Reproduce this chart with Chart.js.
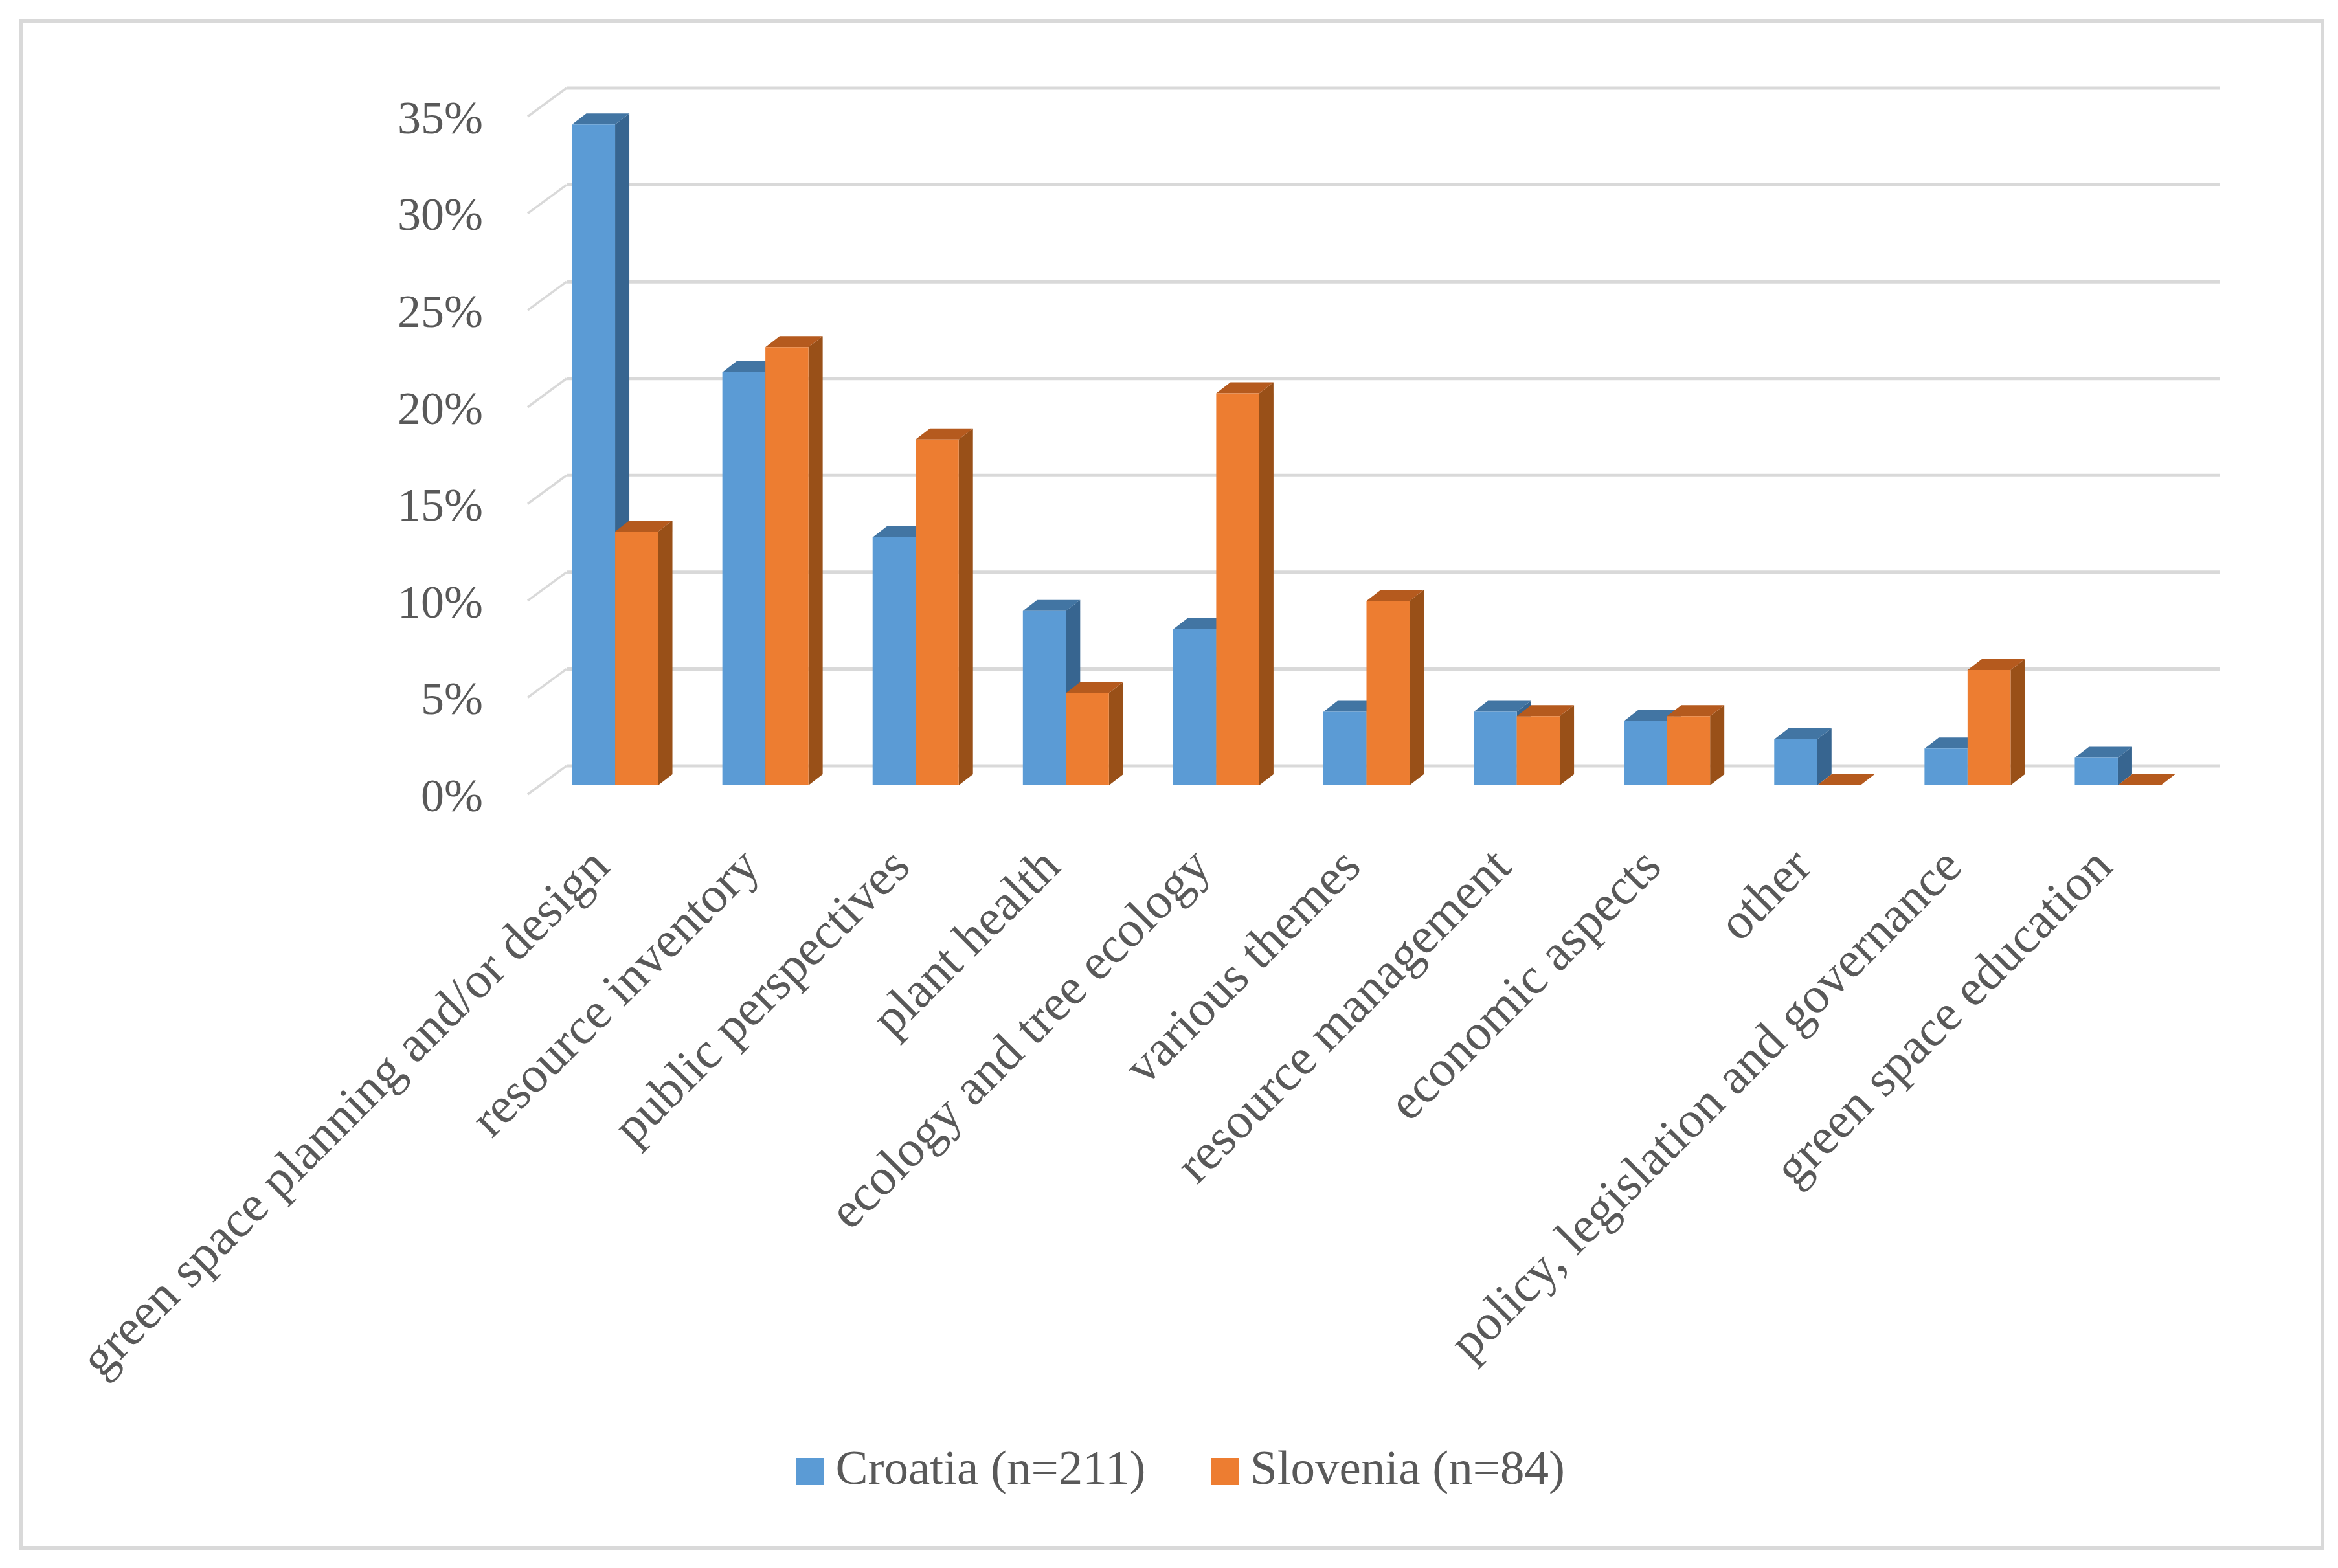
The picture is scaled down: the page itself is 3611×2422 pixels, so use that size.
<!DOCTYPE html>
<html>
<head>
<meta charset="utf-8">
<style>html,body{margin:0;padding:0;background:#fff}canvas{display:block}</style>
<script src="https://cdn.jsdelivr.net/npm/chart.js@4"></script>
</head>
<body>
<canvas id="c" width="3611" height="2422" style="width:3611px;height:2422px"></canvas>
<script>
const categories = ["green space planning and/or design","resource inventory","public perspectives","plant health","ecology and tree ecology","various themes","resource management","economic aspects","other","policy, legislation and governance","green space education"];
const croatia = [34.12,21.33,12.80,9.00,8.06,3.79,3.79,3.32,2.37,1.90,1.42];
const slovenia = [13.10,22.62,17.86,4.76,20.24,9.52,3.57,3.57,0,5.95,0];
const seriesNames = ["Croatia (n=211)","Slovenia (n=84)"];
const seriesColors = ['#5B9BD5','#ED7D31'];
const fontFamily = '"Liberation Serif"';
const textColor = '#595959';
const depth = {frontX:-19, frontY:14, backX:41, backY:-30, barX:22, barY:17};
const shades = [{top:'#4275A3',side:'#376590'},{top:'#B55A1E',side:'#995018'}];

function swatch(color){
  const k=document.createElement('canvas');k.width=42;k.height=42;
  const g=k.getContext('2d');g.fillStyle=color;g.fillRect(0,0,42,42);return k;
}
const swatches = seriesColors.map(swatch);

const frame3d = {
  id:'frame3d',
  afterLayout(chart){
    chart.scales.x.bottom = chart.height;
  },
  beforeDraw(chart){
    const c = chart.ctx;
    c.save();c.fillStyle='#fff';c.fillRect(0,0,chart.width,chart.height);
    c.strokeStyle='#D9D9D9';c.lineWidth=6;c.strokeRect(32,32,3555,2359);c.restore();
  },
  beforeDatasetsDraw(chart){
    const c = chart.ctx, y = chart.scales.y, a = chart.chartArea;
    c.save();c.strokeStyle='#D9D9D9';
    y.ticks.forEach(t=>{
      const p = y.getPixelForValue(t.value);
      c.lineWidth=3.5;c.beginPath();
      c.moveTo(a.left+depth.frontX,p+depth.frontY);
      c.lineTo(a.left+depth.backX,p+depth.backY);c.stroke();
      c.lineWidth=5;c.beginPath();
      c.moveTo(a.left+depth.backX,p+depth.backY);
      c.lineTo(a.right+depth.backX,p+depth.backY);c.stroke();
    });
    c.restore();
  },
  beforeDatasetDraw(){ return false; },
  afterDatasetsDraw(chart){
    const c = chart.ctx, dx=depth.barX, dy=depth.barY;
    chart.getSortedVisibleDatasetMetas().forEach(meta=>{
      const s = shades[meta.index];
      c.save();
      meta.data.forEach(b=>{
        const l=b.x-b.width/2, r=b.x+b.width/2, t=b.y, base=b.base;
        c.fillStyle=s.side;c.beginPath();
        c.moveTo(r,base);c.lineTo(r+dx,base-dy);c.lineTo(r+dx,t-dy);c.lineTo(r,t);c.closePath();c.fill();
        c.fillStyle=s.top;c.beginPath();
        c.moveTo(l,t);c.lineTo(l+dx,t-dy);c.lineTo(r+dx,t-dy);c.lineTo(r,t);c.closePath();c.fill();
      });
      c.restore();
      meta.controller.draw();
    });
  }
};

new Chart(document.getElementById('c'),{
  type:'bar',
  data:{labels:categories,datasets:[
    {label:seriesNames[0],data:croatia,backgroundColor:seriesColors[0],yAxisID:'y'},
    {label:seriesNames[1],data:slovenia,backgroundColor:seriesColors[1],yAxisID:'y'}
  ]},
  options:{
    responsive:false,animation:false,devicePixelRatio:1,
    layout:{padding:{left:55,right:0,top:166,bottom:102}},
    datasets:{bar:{categoryPercentage:0.573,barPercentage:1,borderWidth:0}},
    plugins:{
      tooltip:{enabled:false},
      legend:{position:'bottom',labels:{
        usePointStyle:true,pointStyleWidth:4,boxHeight:42,padding:120,color:textColor,font:{family:fontFamily,size:75},
        generateLabels(chart){
          return Chart.defaults.plugins.legend.labels.generateLabels(chart).map((it,i)=>Object.assign(it,{pointStyle:swatches[i]}));
        }
      }}
    },
    scales:{
      x:{
        grid:{display:false},border:{display:false},
        ticks:{autoSkip:false,minRotation:45,maxRotation:45,padding:73,labelOffset:-20,color:textColor,font:{family:fontFamily,size:79}},
        afterFit(s){s.height=902;s.paddingLeft=0;s.paddingRight=0;}
      },
      y:{
        min:0,max:35,
        grid:{display:false},border:{display:false},
        ticks:{stepSize:5,padding:80,labelOffset:21,color:textColor,font:{family:fontFamily,size:72},callback:v=>v+'%'},
        afterFit(s){s.width=779;}
      },
      y2:{
        position:'right',min:0,max:35,
        grid:{display:false},border:{display:false},ticks:{display:false},
        afterFit(s){s.width=224;}
      }
    }
  },
  plugins:[frame3d]
});
</script>
</body>
</html>
